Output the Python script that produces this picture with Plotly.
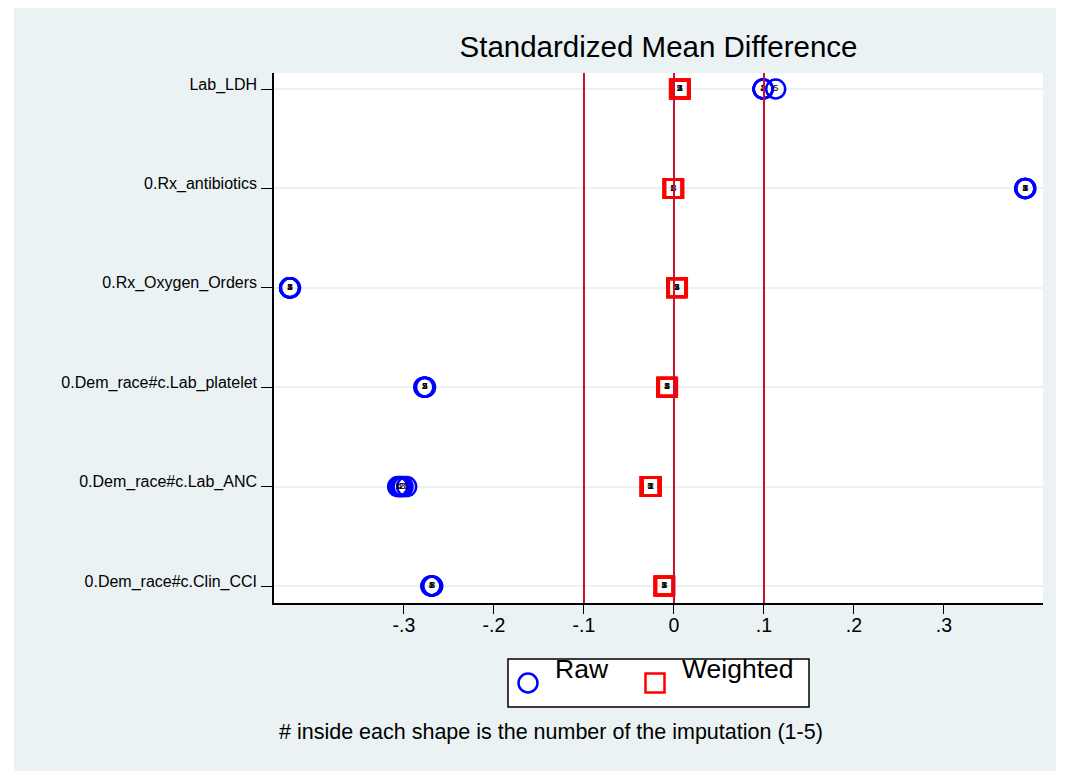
import plotly.graph_objects as go

# variables, bottom to top
variables = ["0.Dem_race#c.Clin_CCI", "0.Dem_race#c.Lab_ANC", "0.Dem_race#c.Lab_platelet",
             "0.Rx_Oxygen_Orders", "0.Rx_antibiotics", "Lab_LDH"]
imputations = [1, 2, 3, 4, 5]

# standardized mean difference, one list per imputation (same order as variables)
raw_imp1 = [-0.270, -0.307, -0.278, -0.427, 0.390, 0.099]
raw_imp2 = [-0.269, -0.303, -0.277, -0.427, 0.390, 0.099]
raw_imp3 = [-0.268, -0.301, -0.277, -0.426, 0.391, 0.099]
raw_imp4 = [-0.270, -0.305, -0.276, -0.427, 0.390, 0.099]
raw_imp5 = [-0.269, -0.297, -0.277, -0.427, 0.390, 0.113]

wt_imp1 = [-0.011, -0.026, -0.008, 0.003, -0.001, 0.007]
wt_imp2 = [-0.011, -0.025, -0.008, 0.003, -0.001, 0.006]
wt_imp3 = [-0.010, -0.026, -0.007, 0.003, 0.000, 0.007]
wt_imp4 = [-0.011, -0.026, -0.008, 0.004, -0.001, 0.007]
wt_imp5 = [-0.011, -0.027, -0.008, 0.003, -0.001, 0.006]

raw_all = [raw_imp1, raw_imp2, raw_imp3, raw_imp4, raw_imp5]
wt_all = [wt_imp1, wt_imp2, wt_imp3, wt_imp4, wt_imp5]

ref_lines = [-0.1, 0, 0.1]
xtick_vals = [-0.3, -0.2, -0.1, 0, 0.1, 0.2, 0.3]
xtick_text = ["-.3", "-.2", "-.1", "0", ".1", ".2", ".3"]

FONT = "Arial, Liberation Sans, sans-serif"
BLUE = "#0000FF"
RED = "#FF0000"

# page offset (body margin) and plot area geometry, in pixels
OFF = 8
L, T, PW, PH = 266, 65, 769, 530


def px(x):
    # page pixel -> paper x
    return (x - OFF - L) / PW


def py(y):
    # page pixel -> paper y
    return (T + PH - (y - OFF)) / PH


fig = go.Figure()

rx, ry, rt = [], [], []
wx, wy, wtxt = [], [], []
for imp, rvals, wvals in zip(imputations, raw_all, wt_all):
    for v, r, w in zip(variables, rvals, wvals):
        rx.append(r); ry.append(v); rt.append(str(imp))
        wx.append(w); wy.append(v); wtxt.append(str(imp))

fig.add_trace(go.Scatter(
    x=rx, y=ry, text=rt, mode="markers+text", name="Raw",
    marker=dict(symbol="circle-open", size=19, color=BLUE, line=dict(width=2.5, color=BLUE)),
    textfont=dict(size=9, color="black", family=FONT), textposition="middle center",
))
fig.add_trace(go.Scatter(
    x=wx, y=wy, text=wtxt, mode="markers+text", name="Weighted",
    marker=dict(symbol="square-open", size=18, color=RED, line=dict(width=3, color=RED)),
    textfont=dict(size=9, color="black", family=FONT), textposition="middle center",
))

shapes = [
    # outer grey background, leaving a thin white border
    dict(type="rect", xref="paper", yref="paper", x0=px(14), x1=px(1056), y0=py(775), y1=py(7),
         fillcolor="#EAF2F3", line=dict(width=0), layer="below"),
    dict(type="rect", xref="paper", yref="paper", x0=0, x1=1, y0=0, y1=1,
         fillcolor="white", line=dict(width=0), layer="below"),
    # legend box and keys
    dict(type="rect", xref="paper", yref="paper", x0=px(508), x1=px(809), y0=py(707), y1=py(659),
         fillcolor="white", line=dict(color="black", width=1.5)),
    dict(type="circle", xref="paper", yref="paper", x0=px(518.5), x1=px(537.5), y0=py(692.5), y1=py(673.5),
         line=dict(color=BLUE, width=2.5)),
    dict(type="rect", xref="paper", yref="paper", x0=px(645.5), x1=px(664.5), y0=py(692.5), y1=py(673.5),
         line=dict(color=RED, width=2.5)),
]
for xv in ref_lines:
    shapes.append(dict(type="line", xref="x", yref="paper", x0=xv, x1=xv, y0=0, y1=1,
                       line=dict(color="#C8102E", width=2)))

annotations = [
    dict(text="Raw", xref="paper", yref="paper", x=px(553), y=py(669), showarrow=False,
         xanchor="left", yanchor="middle", font=dict(size=26.5, color="black")),
    dict(text="Weighted", xref="paper", yref="paper", x=px(680), y=py(669), showarrow=False,
         xanchor="left", yanchor="middle", font=dict(size=26.5, color="black")),
    dict(text="# inside each shape is the number of the imputation (1-5)",
         xref="paper", yref="paper", x=px(551), y=py(732), showarrow=False,
         xanchor="center", yanchor="middle", font=dict(size=21.5, color="black")),
]

fig.update_layout(
    width=1060, height=763,
    margin=dict(l=L, r=1060 - L - PW, t=T, b=763 - T - PH),
    paper_bgcolor="white", plot_bgcolor="white",
    font=dict(family=FONT, color="black"),
    title=dict(text="Standardized Mean Difference", x=0.5, xref="paper", xanchor="center",
               y=1 - (47 - OFF) / 763, yanchor="middle", font=dict(size=29.5, color="black")),
    shapes=shapes,
    annotations=annotations,
    showlegend=False,
)

fig.update_xaxes(range=[-0.4444, 0.41], tickvals=xtick_vals, ticktext=xtick_text,
                 showgrid=False, zeroline=False, showline=True, linecolor="black", linewidth=1.5,
                 ticks="outside", ticklen=9, tickwidth=1, tickcolor="black",
                 ticklabelstandoff=-5,
                 tickfont=dict(size=19.5, color="black"))
fig.update_yaxes(type="category", categoryarray=variables, range=[-0.171, 5.161],
                 showgrid=True, gridcolor="#EAF2F3", gridwidth=2, zeroline=False,
                 showline=True, linecolor="black", linewidth=1.5,
                 ticks="outside", ticklen=11, tickwidth=1, tickcolor="black",
                 ticklabelstandoff=1, ticklabelshift=-5,
                 tickfont=dict(size=16, color="black"))

fig.write_html("out.html")
